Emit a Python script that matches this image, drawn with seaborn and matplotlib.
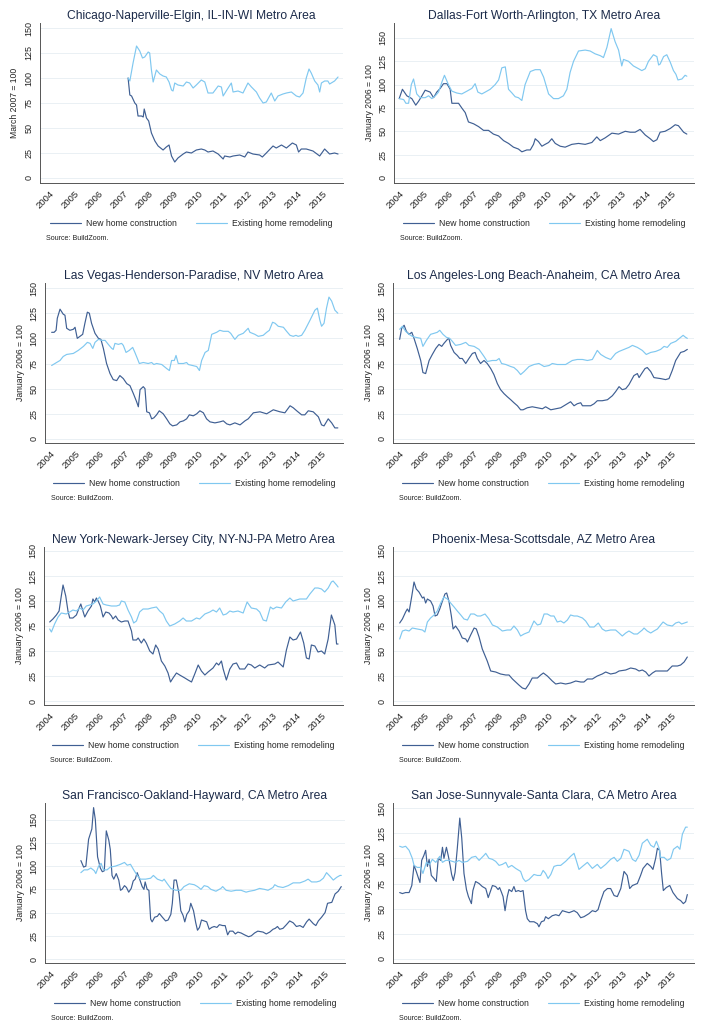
import numpy as np
import pandas as pd
import matplotlib.pyplot as plt
import seaborn as sns

sns.set_style("white")
plt.rcParams['font.family'] = ['Liberation Sans', 'DejaVu Sans']

DARK = "#3f5f93"
LIGHT = "#80c8f0"
TITLE = "#1c2b4a"

years = list(range(2004, 2016))

# (years after Jan 2004, index value)
chi_new = [(3.18, 100), (3.25, 83), (3.32, 82), (3.45, 75), (3.52, 73), (3.58, 62), (3.72, 62), (3.79, 61),
           (3.83, 69), (3.92, 60), (4.01, 57), (4.12, 45), (4.26, 37), (4.39, 32), (4.59, 28), (4.72, 31),
           (4.83, 33), (4.93, 22), (5.06, 16), (5.19, 20), (5.40, 24), (5.53, 26), (5.73, 25), (5.93, 28),
           (6.13, 29), (6.27, 28), (6.40, 26), (6.60, 27), (6.81, 24), (7.01, 19), (7.07, 22), (7.28, 21),
           (7.41, 22), (7.68, 23), (7.88, 21), (8.01, 26), (8.21, 24), (8.48, 23), (8.59, 21), (8.75, 25),
           (9.02, 32), (9.15, 30), (9.36, 33), (9.56, 30), (9.80, 35), (9.96, 33), (10.05, 26), (10.16, 29),
           (10.36, 29), (10.63, 27), (10.90, 22), (11.10, 29), (11.30, 24), (11.50, 25), (11.64, 24)]
chi_rem = [(3.18, 100), (3.25, 97), (3.38, 115), (3.52, 132), (3.65, 127), (3.76, 120), (3.85, 121), (3.99, 126),
           (4.05, 125), (4.12, 108), (4.19, 96), (4.32, 108), (4.46, 104), (4.59, 102), (4.72, 101), (4.83, 96),
           (4.93, 88), (4.99, 87), (5.06, 95), (5.19, 93), (5.40, 92), (5.53, 96), (5.66, 95), (5.80, 90),
           (5.93, 93), (6.13, 98), (6.27, 96), (6.40, 85), (6.60, 85), (6.81, 92), (6.94, 91), (7.01, 82),
           (7.21, 90), (7.34, 95), (7.41, 86), (7.61, 87), (7.81, 85), (8.01, 95), (8.15, 91), (8.35, 86),
           (8.48, 80), (8.62, 75), (8.75, 76), (8.95, 85), (9.09, 77), (9.22, 82), (9.42, 84), (9.56, 85),
           (9.76, 86), (9.96, 82), (10.09, 81), (10.23, 85), (10.36, 100), (10.47, 109), (10.56, 105),
           (10.70, 97), (10.83, 93), (10.90, 86), (10.97, 95), (11.10, 97), (11.23, 97), (11.30, 94),
           (11.50, 97), (11.64, 101)]

dal_new = [(0.00, 85), (0.13, 95), (0.31, 88), (0.51, 85), (0.67, 78), (0.78, 82), (0.92, 88), (1.05, 94),
           (1.25, 92), (1.39, 86), (1.52, 92), (1.66, 96), (1.79, 101), (1.93, 101), (2.06, 95), (2.13, 80),
           (2.26, 80), (2.40, 80), (2.53, 75), (2.67, 70), (2.80, 60), (3.01, 58), (3.21, 55), (3.41, 51),
           (3.61, 51), (3.81, 47), (4.02, 45), (4.22, 40), (4.42, 37), (4.62, 33), (4.82, 31), (4.96, 28),
           (5.16, 30), (5.30, 30), (5.43, 36), (5.50, 42), (5.63, 39), (5.77, 34), (5.90, 36), (6.04, 38),
           (6.17, 42), (6.31, 37), (6.51, 34), (6.71, 33), (6.98, 36), (7.25, 37), (7.52, 36), (7.79, 38),
           (7.99, 44), (8.13, 40), (8.33, 43), (8.60, 48), (8.87, 47), (9.14, 50), (9.34, 49), (9.54, 49),
           (9.74, 52), (9.95, 46), (10.15, 42), (10.28, 39), (10.42, 41), (10.55, 49), (10.75, 50),
           (10.96, 53), (11.16, 57), (11.29, 56), (11.50, 49), (11.63, 47)]
dal_rem = [(0.00, 85), (0.18, 84), (0.27, 80), (0.38, 80), (0.49, 100), (0.58, 106), (0.71, 90), (0.85, 86),
           (1.05, 86), (1.19, 88), (1.32, 85), (1.46, 88), (1.59, 92), (1.73, 103), (1.83, 110), (1.99, 100),
           (2.13, 93), (2.33, 91), (2.53, 90), (2.74, 93), (2.94, 96), (3.07, 101), (3.18, 92), (3.34, 90),
           (3.48, 92), (3.68, 95), (3.88, 100), (4.02, 105), (4.15, 118), (4.29, 119), (4.42, 95), (4.56, 91),
           (4.69, 87), (4.82, 86), (4.96, 83), (5.09, 100), (5.30, 114), (5.50, 116), (5.70, 116), (5.84, 108),
           (6.04, 90), (6.24, 85), (6.44, 85), (6.64, 88), (6.78, 95), (6.91, 113), (7.05, 125), (7.25, 136),
           (7.52, 137), (7.72, 136), (7.92, 133), (8.13, 131), (8.26, 129), (8.40, 140), (8.57, 160),
           (8.73, 146), (8.87, 137), (9.00, 120), (9.07, 127), (9.27, 125), (9.47, 120), (9.68, 117),
           (9.81, 115), (9.95, 117), (10.08, 125), (10.28, 132), (10.42, 130), (10.49, 121), (10.55, 122),
           (10.69, 130), (10.82, 132), (10.96, 124), (11.09, 115), (11.19, 111), (11.27, 105), (11.43, 106),
           (11.56, 110), (11.63, 109)]

lv_new = [(0.04, 106), (0.14, 106), (0.22, 108), (0.27, 120), (0.38, 129), (0.51, 124), (0.58, 123), (0.65, 110),
          (0.78, 108), (0.92, 109), (0.99, 111), (1.08, 100), (1.19, 102), (1.30, 104), (1.39, 115), (1.49, 126),
          (1.57, 125), (1.66, 115), (1.80, 105), (1.94, 100), (2.04, 99), (2.14, 90), (2.27, 75), (2.41, 65),
          (2.54, 59), (2.68, 58), (2.81, 63), (2.95, 60), (3.09, 55), (3.22, 53), (3.36, 45), (3.49, 37),
          (3.56, 32), (3.63, 49), (3.76, 52), (3.83, 50), (3.90, 27), (4.01, 26), (4.10, 20), (4.19, 21),
          (4.30, 24), (4.41, 28), (4.57, 25), (4.71, 20), (4.84, 15), (4.95, 13), (5.12, 14), (5.25, 17),
          (5.39, 18), (5.52, 20), (5.63, 24), (5.79, 23), (5.93, 25), (6.06, 28), (6.20, 26), (6.33, 20),
          (6.47, 17), (6.67, 16), (6.87, 17), (7.01, 18), (7.15, 15), (7.28, 14), (7.48, 16), (7.69, 14),
          (7.89, 18), (8.02, 20), (8.23, 26), (8.50, 27), (8.77, 25), (9.04, 29), (9.31, 27), (9.51, 26),
          (9.72, 33), (9.85, 31), (9.99, 28), (10.19, 24), (10.32, 24), (10.46, 28), (10.66, 27), (10.87, 22),
          (11.00, 14), (11.10, 13), (11.27, 20), (11.41, 16), (11.54, 11), (11.66, 11)]
lv_rem = [(0.04, 73), (0.24, 76), (0.38, 78), (0.51, 82), (0.65, 84), (0.92, 85), (1.12, 88), (1.33, 92),
          (1.49, 96), (1.60, 95), (1.71, 90), (1.80, 96), (1.94, 99), (2.07, 98), (2.21, 98), (2.34, 94),
          (2.48, 90), (2.54, 89), (2.61, 95), (2.75, 94), (2.88, 95), (2.95, 93), (3.06, 86), (3.19, 88),
          (3.33, 91), (3.42, 86), (3.52, 80), (3.60, 75), (3.76, 76), (3.96, 75), (4.10, 76), (4.19, 74),
          (4.30, 75), (4.51, 74), (4.71, 70), (4.82, 68), (4.91, 78), (5.02, 78), (5.09, 83), (5.18, 75),
          (5.39, 75), (5.52, 76), (5.59, 74), (5.76, 73), (5.93, 72), (6.04, 68), (6.13, 78), (6.27, 86),
          (6.40, 88), (6.54, 104), (6.74, 106), (6.87, 108), (7.01, 107), (7.21, 107), (7.31, 105),
          (7.42, 101), (7.48, 99), (7.62, 103), (7.82, 105), (8.02, 110), (8.09, 106), (8.29, 104),
          (8.43, 102), (8.63, 103), (8.77, 106), (8.88, 108), (9.01, 116), (9.11, 115), (9.24, 112),
          (9.45, 111), (9.58, 107), (9.72, 103), (9.85, 102), (9.96, 103), (10.05, 102), (10.19, 103),
          (10.32, 108), (10.53, 118), (10.73, 128), (10.83, 130), (10.93, 118), (11.00, 112), (11.10, 115),
          (11.20, 130), (11.30, 141), (11.41, 137), (11.54, 128), (11.66, 125)]

la_new = [(0.00, 99), (0.08, 110), (0.18, 113), (0.27, 107), (0.38, 104), (0.49, 106), (0.58, 100), (0.71, 90),
          (0.85, 78), (0.94, 66), (1.05, 65), (1.19, 78), (1.32, 84), (1.46, 90), (1.59, 94), (1.70, 92),
          (1.79, 95), (1.93, 99), (1.99, 100), (2.06, 93), (2.20, 86), (2.33, 83), (2.43, 80), (2.53, 80),
          (2.67, 75), (2.80, 80), (2.94, 85), (3.05, 86), (3.14, 80), (3.27, 75), (3.41, 78), (3.54, 75),
          (3.68, 70), (3.81, 64), (3.95, 55), (4.08, 49), (4.22, 45), (4.35, 42), (4.49, 39), (4.62, 36),
          (4.76, 33), (4.89, 29), (4.99, 29), (5.16, 31), (5.36, 32), (5.57, 31), (5.77, 30), (5.90, 32),
          (6.11, 29), (6.31, 30), (6.51, 31), (6.71, 34), (6.91, 37), (7.05, 33), (7.18, 35), (7.32, 36),
          (7.39, 33), (7.52, 33), (7.72, 33), (7.86, 35), (7.99, 38), (8.19, 38), (8.40, 39), (8.60, 43),
          (8.73, 47), (8.87, 52), (9.00, 49), (9.14, 50), (9.27, 54), (9.47, 63), (9.61, 65), (9.68, 61),
          (9.81, 66), (9.92, 70), (10.01, 71), (10.15, 67), (10.28, 61), (10.55, 60), (10.75, 59),
          (10.89, 60), (11.02, 68), (11.16, 78), (11.36, 86), (11.50, 87), (11.63, 89)]
la_rem = [(0.00, 109), (0.11, 112), (0.24, 107), (0.38, 104), (0.51, 102), (0.65, 101), (0.85, 100), (0.94, 92),
          (1.08, 98), (1.25, 104), (1.39, 105), (1.52, 106), (1.62, 108), (1.75, 104), (1.89, 101), (2.02, 100),
          (2.13, 97), (2.26, 93), (2.47, 94), (2.67, 96), (2.80, 93), (3.01, 92), (3.21, 89), (3.41, 82),
          (3.54, 77), (3.75, 78), (3.91, 78), (4.02, 80), (4.12, 75), (4.29, 74), (4.49, 72), (4.62, 71),
          (4.76, 68), (4.89, 64), (5.03, 67), (5.23, 72), (5.43, 74), (5.63, 75), (5.84, 72), (6.04, 73),
          (6.17, 75), (6.37, 74), (6.71, 74), (6.98, 78), (7.18, 79), (7.39, 79), (7.59, 78), (7.79, 79),
          (7.99, 88), (8.13, 84), (8.33, 81), (8.53, 79), (8.73, 85), (8.87, 87), (9.07, 89), (9.27, 91),
          (9.41, 93), (9.61, 91), (9.81, 88), (9.97, 84), (10.15, 86), (10.35, 87), (10.55, 89), (10.69, 92),
          (10.82, 91), (10.96, 95), (11.16, 97), (11.36, 101), (11.46, 103), (11.56, 101), (11.63, 100)]

ny_new = [(0.00, 79), (0.13, 82), (0.27, 86), (0.38, 90), (0.47, 105), (0.54, 116), (0.65, 105), (0.74, 90),
          (0.81, 83), (0.94, 83), (1.08, 86), (1.19, 93), (1.26, 97), (1.32, 92), (1.42, 84), (1.55, 90),
          (1.69, 95), (1.75, 102), (1.82, 99), (1.89, 103), (1.96, 100), (2.05, 95), (2.16, 84), (2.27, 89),
          (2.40, 88), (2.50, 85), (2.56, 82), (2.67, 85), (2.77, 81), (2.90, 79), (3.04, 80), (3.17, 80),
          (3.31, 70), (3.37, 61), (3.51, 61), (3.58, 63), (3.71, 58), (3.81, 62), (3.91, 58), (4.05, 50),
          (4.18, 47), (4.29, 56), (4.39, 52), (4.52, 40), (4.66, 35), (4.79, 28), (4.89, 19), (4.99, 23),
          (5.13, 28), (5.26, 26), (5.47, 23), (5.60, 21), (5.74, 19), (5.87, 27), (6.01, 36), (6.14, 30),
          (6.28, 26), (6.41, 29), (6.61, 33), (6.75, 38), (6.84, 36), (6.95, 40), (7.02, 32), (7.15, 21),
          (7.29, 32), (7.42, 37), (7.56, 38), (7.69, 32), (7.89, 32), (8.03, 37), (8.16, 36), (8.30, 33),
          (8.50, 36), (8.70, 33), (8.84, 36), (9.11, 37), (9.24, 39), (9.45, 34), (9.58, 51), (9.72, 64),
          (9.85, 61), (9.99, 62), (10.15, 69), (10.28, 58), (10.39, 43), (10.50, 42), (10.59, 56),
          (10.73, 55), (10.86, 49), (11.00, 50), (11.13, 47), (11.27, 62), (11.40, 86), (11.54, 76),
          (11.61, 57), (11.67, 57)]
ny_rem = [(0.00, 72), (0.07, 69), (0.20, 77), (0.34, 84), (0.47, 88), (0.67, 87), (0.81, 89), (0.94, 91),
          (1.08, 90), (1.21, 93), (1.35, 91), (1.48, 95), (1.62, 96), (1.75, 97), (1.89, 100), (2.02, 104),
          (2.16, 97), (2.29, 96), (2.50, 95), (2.70, 95), (2.83, 96), (2.90, 100), (3.04, 99), (3.17, 91),
          (3.31, 84), (3.40, 78), (3.51, 80), (3.64, 89), (3.78, 92), (3.98, 92), (4.12, 93), (4.32, 94),
          (4.45, 90), (4.59, 87), (4.72, 80), (4.86, 75), (5.06, 77), (5.26, 80), (5.40, 83), (5.53, 80),
          (5.74, 80), (5.94, 83), (6.07, 82), (6.28, 87), (6.48, 89), (6.61, 91), (6.75, 89), (6.88, 93),
          (7.02, 86), (7.15, 87), (7.29, 90), (7.42, 89), (7.62, 90), (7.83, 88), (7.99, 99), (8.16, 93),
          (8.37, 92), (8.50, 89), (8.64, 81), (8.77, 80), (8.93, 94), (9.04, 92), (9.18, 94), (9.38, 93),
          (9.55, 99), (9.72, 103), (9.85, 100), (10.12, 102), (10.39, 102), (10.53, 107), (10.73, 113),
          (10.86, 113), (11.00, 112), (11.13, 109), (11.27, 113), (11.40, 119), (11.47, 120), (11.61, 116),
          (11.67, 114)]

phx_new = [(0.00, 78), (0.11, 82), (0.24, 89), (0.31, 92), (0.38, 89), (0.49, 105), (0.58, 119), (0.67, 112),
           (0.78, 109), (0.92, 103), (0.98, 104), (1.05, 98), (1.12, 102), (1.25, 100), (1.35, 95), (1.43, 85),
           (1.52, 86), (1.62, 92), (1.73, 100), (1.83, 107), (1.90, 108), (1.99, 100), (2.09, 85), (2.16, 72),
           (2.26, 75), (2.40, 70), (2.53, 63), (2.67, 62), (2.74, 59), (2.87, 66), (3.01, 73), (3.10, 72),
           (3.21, 64), (3.34, 52), (3.54, 40), (3.68, 30), (3.88, 29), (4.08, 27), (4.29, 26), (4.42, 26),
           (4.56, 22), (4.69, 19), (4.82, 16), (4.96, 13), (5.09, 12), (5.23, 17), (5.36, 23), (5.57, 23),
           (5.70, 26), (5.81, 28), (5.97, 25), (6.17, 20), (6.31, 17), (6.51, 18), (6.71, 17), (6.91, 18),
           (7.12, 20), (7.32, 19), (7.45, 19), (7.59, 22), (7.79, 22), (7.99, 25), (8.19, 27), (8.33, 29),
           (8.53, 27), (8.73, 28), (8.87, 30), (9.14, 31), (9.34, 33), (9.54, 32), (9.68, 30), (9.81, 31),
           (9.95, 29), (10.08, 25), (10.22, 28), (10.35, 30), (10.62, 30), (10.82, 30), (11.02, 35),
           (11.23, 35), (11.36, 36), (11.50, 39), (11.63, 44)]
phx_rem = [(0.00, 62), (0.11, 70), (0.24, 71), (0.38, 70), (0.51, 73), (0.71, 72), (0.92, 71), (1.02, 69),
           (1.12, 79), (1.25, 83), (1.39, 86), (1.52, 90), (1.66, 98), (1.79, 104), (1.93, 102), (2.06, 98),
           (2.20, 94), (2.33, 90), (2.47, 86), (2.60, 82), (2.74, 81), (2.87, 87), (3.01, 87), (3.14, 85),
           (3.27, 85), (3.45, 87), (3.61, 82), (3.75, 76), (3.95, 74), (4.15, 70), (4.35, 71), (4.49, 71),
           (4.62, 75), (4.76, 71), (4.89, 65), (5.03, 67), (5.23, 69), (5.43, 80), (5.57, 76), (5.70, 77),
           (5.84, 87), (5.97, 87), (6.11, 85), (6.24, 85), (6.37, 79), (6.51, 80), (6.64, 78), (6.78, 81),
           (6.91, 86), (7.05, 85), (7.18, 85), (7.39, 83), (7.52, 80), (7.68, 74), (7.86, 74), (8.03, 78),
           (8.19, 72), (8.33, 70), (8.53, 71), (8.73, 71), (8.87, 68), (9.00, 65), (9.14, 68), (9.27, 70),
           (9.47, 67), (9.61, 67), (9.81, 71), (9.88, 73), (10.01, 70), (10.15, 68), (10.28, 70), (10.42, 72),
           (10.55, 76), (10.65, 79), (10.82, 76), (11.02, 75), (11.16, 78), (11.29, 79), (11.40, 77),
           (11.63, 79)]

sf_new = [(1.24, 106), (1.35, 99), (1.44, 100), (1.55, 129), (1.68, 140), (1.75, 163), (1.82, 150), (1.91, 110),
          (2.02, 98), (2.10, 94), (2.18, 95), (2.26, 138), (2.36, 128), (2.42, 118), (2.49, 90), (2.56, 86),
          (2.66, 92), (2.76, 85), (2.83, 74), (2.89, 75), (2.99, 79), (3.07, 77), (3.16, 72), (3.26, 76),
          (3.34, 84), (3.42, 86), (3.50, 93), (3.61, 85), (3.70, 78), (3.77, 75), (3.82, 83), (3.90, 75),
          (3.97, 74), (4.04, 43), (4.10, 40), (4.20, 45), (4.31, 46), (4.39, 49), (4.51, 45), (4.64, 41),
          (4.74, 42), (4.85, 48), (4.91, 60), (4.98, 85), (5.07, 85), (5.18, 70), (5.25, 52), (5.34, 47),
          (5.41, 40), (5.49, 48), (5.59, 52), (5.65, 60), (5.76, 52), (5.85, 39), (5.92, 31), (6.00, 34),
          (6.08, 42), (6.19, 41), (6.29, 40), (6.39, 32), (6.49, 34), (6.59, 35), (6.70, 34), (6.80, 37),
          (6.93, 36), (7.03, 36), (7.13, 26), (7.21, 30), (7.34, 30), (7.44, 27), (7.54, 29), (7.67, 28),
          (7.81, 26), (7.97, 24), (8.08, 25), (8.21, 28), (8.34, 30), (8.55, 29), (8.68, 27), (8.82, 29),
          (8.95, 32), (9.04, 33), (9.13, 35), (9.22, 32), (9.35, 33), (9.49, 37), (9.62, 41), (9.76, 39),
          (9.89, 35), (10.03, 36), (10.16, 34), (10.30, 40), (10.40, 43), (10.57, 38), (10.67, 36),
          (10.77, 41), (10.90, 45), (11.04, 50), (11.14, 60), (11.31, 61), (11.44, 70), (11.57, 73),
          (11.69, 78)]
sf_rem = [(1.24, 93), (1.37, 96), (1.51, 96), (1.64, 98), (1.78, 95), (1.84, 92), (1.95, 100), (2.05, 103),
          (2.15, 96), (2.29, 96), (2.42, 99), (2.62, 100), (2.83, 102), (2.99, 104), (3.10, 101), (3.23, 102),
          (3.36, 96), (3.50, 90), (3.63, 86), (3.84, 86), (4.04, 87), (4.15, 90), (4.31, 86), (4.51, 84),
          (4.58, 86), (4.71, 81), (4.85, 76), (5.05, 74), (5.25, 74), (5.38, 78), (5.59, 81), (5.79, 80),
          (5.92, 78), (6.06, 75), (6.19, 79), (6.33, 78), (6.46, 75), (6.66, 73), (6.86, 76), (6.93, 78),
          (7.07, 74), (7.27, 73), (7.47, 74), (7.67, 74), (7.87, 72), (8.01, 73), (8.21, 74), (8.41, 76),
          (8.61, 75), (8.75, 74), (8.95, 77), (9.02, 80), (9.15, 78), (9.35, 77), (9.56, 79), (9.76, 82),
          (9.89, 82), (10.03, 82), (10.23, 84), (10.36, 86), (10.50, 83), (10.70, 83), (10.83, 84),
          (10.97, 87), (11.10, 93), (11.24, 89), (11.37, 85), (11.51, 88), (11.64, 90), (11.69, 90)]

sj_new = [(0.00, 66), (0.11, 65), (0.24, 66), (0.38, 66), (0.49, 73), (0.58, 93), (0.67, 87), (0.75, 81),
          (0.82, 76), (0.89, 98), (0.98, 103), (1.05, 108), (1.12, 92), (1.19, 99), (1.28, 83), (1.39, 80),
          (1.48, 77), (1.56, 100), (1.66, 98), (1.73, 111), (1.79, 100), (1.89, 111), (1.97, 102), (2.04, 93),
          (2.10, 84), (2.17, 78), (2.24, 86), (2.33, 110), (2.43, 140), (2.51, 120), (2.60, 85), (2.70, 69),
          (2.78, 62), (2.90, 55), (2.96, 68), (3.07, 77), (3.21, 75), (3.34, 72), (3.48, 70), (3.58, 61),
          (3.68, 68), (3.75, 73), (3.88, 72), (3.98, 69), (4.04, 71), (4.12, 66), (4.18, 62), (4.26, 48),
          (4.35, 62), (4.42, 69), (4.53, 67), (4.62, 72), (4.69, 67), (4.80, 68), (4.89, 67), (4.99, 68),
          (5.09, 48), (5.16, 40), (5.26, 37), (5.43, 37), (5.57, 35), (5.63, 32), (5.73, 37), (5.84, 38),
          (5.90, 42), (6.01, 40), (6.17, 43), (6.31, 44), (6.44, 43), (6.58, 48), (6.71, 47), (6.85, 46),
          (7.05, 48), (7.18, 46), (7.32, 41), (7.45, 42), (7.65, 45), (7.79, 48), (7.92, 47), (8.02, 49),
          (8.13, 58), (8.26, 67), (8.40, 70), (8.53, 70), (8.67, 63), (8.80, 62), (8.94, 70), (9.07, 87),
          (9.20, 83), (9.30, 70), (9.41, 73), (9.61, 75), (9.74, 83), (9.84, 90), (10.01, 95), (10.15, 92),
          (10.24, 89), (10.35, 100), (10.42, 110), (10.51, 108), (10.59, 85), (10.66, 68), (10.78, 71),
          (10.92, 73), (11.05, 66), (11.23, 60), (11.36, 58), (11.47, 55), (11.56, 57), (11.63, 64)]
sj_rem = [(0.00, 112), (0.11, 111), (0.24, 112), (0.38, 108), (0.51, 100), (0.58, 93), (0.71, 91), (0.85, 91),
          (0.94, 85), (1.08, 96), (1.21, 94), (1.32, 99), (1.46, 96), (1.62, 102), (1.73, 96), (1.86, 98),
          (1.99, 98), (2.13, 97), (2.26, 96), (2.40, 98), (2.53, 96), (2.74, 97), (2.91, 101), (3.07, 102),
          (3.21, 98), (3.41, 103), (3.48, 105), (3.61, 100), (3.75, 99), (3.88, 97), (4.02, 93), (4.15, 94),
          (4.29, 96), (4.39, 91), (4.53, 93), (4.69, 90), (4.89, 87), (4.99, 80), (5.09, 77), (5.23, 79),
          (5.43, 84), (5.57, 83), (5.70, 83), (5.80, 88), (5.90, 85), (6.00, 80), (6.11, 84), (6.24, 92),
          (6.37, 93), (6.51, 93), (6.71, 97), (6.91, 102), (7.05, 105), (7.14, 98), (7.25, 89), (7.39, 92),
          (7.59, 96), (7.79, 90), (7.99, 94), (8.13, 90), (8.33, 94), (8.53, 99), (8.67, 101), (8.80, 97),
          (8.94, 100), (9.07, 109), (9.27, 107), (9.41, 99), (9.54, 97), (9.68, 103), (9.81, 115),
          (10.01, 119), (10.15, 113), (10.28, 111), (10.38, 117), (10.49, 110), (10.55, 101), (10.69, 101),
          (10.82, 98), (10.96, 100), (11.07, 109), (11.23, 112), (11.33, 109), (11.43, 124), (11.56, 131),
          (11.63, 131)]

titles = ["Chicago-Naperville-Elgin, IL-IN-WI Metro Area",
          "Dallas-Fort Worth-Arlington, TX Metro Area",
          "Las Vegas-Henderson-Paradise, NV Metro Area",
          "Los Angeles-Long Beach-Anaheim, CA Metro Area",
          "New York-Newark-Jersey City, NY-NJ-PA Metro Area",
          "Phoenix-Mesa-Scottsdale, AZ Metro Area",
          "San Francisco-Oakland-Hayward, CA Metro Area",
          "San Jose-Sunnyvale-Santa Clara, CA Metro Area"]
ylabels = ["March 2007 = 100"] + ["January 2006 = 100"] * 7
series = [(chi_new, chi_rem), (dal_new, dal_rem), (lv_new, lv_rem), (la_new, la_rem),
          (ny_new, ny_rem), (phx_new, phx_rem), (sf_new, sf_rem), (sj_new, sj_rem)]

# axes boxes in pixels: left, top, right, bottom ; plus x/y limits
boxes = [(40, 23, 343, 183), (394, 23, 694, 183),
         (45, 283, 343, 443), (393, 283, 694, 443),
         (44, 547, 343, 705), (393, 547, 694, 705),
         (45, 803, 345, 963), (393, 803, 694, 963)]
xlims = [(2003.63, 2015.84), (2003.79, 2015.92), (2003.77, 2015.87), (2003.73, 2015.90),
         (2003.77, 2015.87), (2003.73, 2015.90), (2003.80, 2015.84), (2003.73, 2015.90)]
ylims = [(-5, 155), (-5.4, 166), (-4, 155), (-4, 155), (-4, 154), (-4, 154), (-4.3, 168), (-4, 155)]

W, H = 704, 1024
fig = plt.figure(figsize=(W / 100, H / 100), dpi=100)

for i in range(8):
    L, T, R, B = boxes[i]
    ax = fig.add_axes([L / W, 1 - B / H, (R - L) / W, (B - T) / H])
    new = pd.DataFrame(series[i][0], columns=["t", "v"])
    rem = pd.DataFrame(series[i][1], columns=["t", "v"])
    new["t"] = new["t"] + 2004
    rem["t"] = rem["t"] + 2004
    sns.lineplot(data=new, x="t", y="v", ax=ax, color=DARK, lw=0.85, sort=False,
                 estimator=None, label="New home construction")
    sns.lineplot(data=rem, x="t", y="v", ax=ax, color=LIGHT, lw=0.85, sort=False,
                 estimator=None, label="Existing home remodeling")

    ax.set_xlim(xlims[i])
    ax.set_ylim(ylims[i])
    ax.set_xticks(years)
    ax.set_xticklabels([str(y) for y in years], rotation=45, ha="right",
                       rotation_mode="anchor", fontsize=6.8, color="#222222")
    ax.set_yticks(range(0, 151, 25))
    ax.set_yticklabels([str(v) for v in range(0, 151, 25)], rotation=90,
                       va="center", fontsize=6.5, color="#222222")
    ax.tick_params(axis="both", length=3, width=0.6, color="#666666", pad=1.5)
    ax.grid(axis="y", color="#e6eef2", lw=0.6)
    ax.grid(axis="x", visible=False)
    ax.set_axisbelow(True)
    for s in ["top", "right"]:
        ax.spines[s].set_visible(False)
    for s in ["left", "bottom"]:
        ax.spines[s].set_color("#555555")
        ax.spines[s].set_linewidth(0.7)

    ax.set_xlabel("")
    ax.set_ylabel(ylabels[i], fontsize=6.2, color="#222222")
    ax.yaxis.set_label_coords(-0.068, 0.5)
    ax.set_title(titles[i], fontsize=8.7, color=TITLE, pad=3)
    ax.legend(loc="center", bbox_to_anchor=(0.5, -0.255), ncol=2, frameon=False,
              fontsize=6.2, handlelength=3.6, handletextpad=0.6, columnspacing=2.2)
    ax.text(0.02, -0.35, "Source: BuildZoom.", transform=ax.transAxes,
            fontsize=5.1, va="center", color="#222222")

fig.savefig("out.png", dpi=100, facecolor="white")
